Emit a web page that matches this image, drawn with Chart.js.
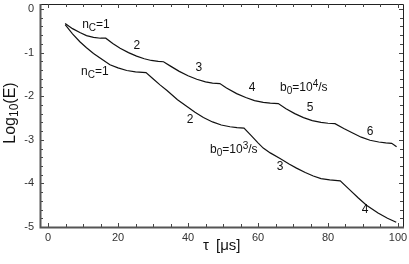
<!DOCTYPE html>
<html><head><meta charset="utf-8">
<script src="https://cdn.jsdelivr.net/npm/chart.js@4/dist/chart.umd.min.js"></script>
<style>html,body{margin:0;padding:0;background:#fff;}canvas{display:block;}</style>
</head><body>
<canvas id="c" width="409" height="264"></canvas>
<script>
// b0 = 10^4 /s
const tauHigh = [4.9,7,9.1,11,13,15,16.5, 18.5,20.6,23,25.3,27.5,29.5,31.5,33, 35,37.5,40,42.5,45,47,49.1, 51,53.9,56.5,59,61.5,63.5,65.8, 68,70.5,73,75.5,78,80,82, 84.5,87.2,89.5,92,94.5,96.5,98.2,99.6];
const logHigh = [-0.33,-0.45,-0.54,-0.61,-0.65,-0.67,-0.67, -0.79,-0.90,-1.00,-1.08,-1.14,-1.18,-1.20,-1.21, -1.31,-1.43,-1.53,-1.61,-1.67,-1.70,-1.71, -1.81,-1.94,-2.03,-2.10,-2.14,-2.16,-2.17, -2.29,-2.40,-2.49,-2.56,-2.60,-2.62,-2.63, -2.74,-2.85,-2.94,-3.01,-3.05,-3.07,-3.08,-3.16];
// b0 = 10^3 /s
const tauLow = [4.9,7,9.1,11,13,15.5,17.7,20,22.5,25,28, 30,32,34,37,39.6,42,44.4,47,49.5,52,54,56, 58,60,61.5,63.5,66.3,69,71,73.5,75.8,78,80.5,83.5, 86,88.6,91,94.3,97,99.5];
const logLow = [-0.36,-0.57,-0.75,-0.89,-1.02,-1.16,-1.28,-1.35,-1.41,-1.44,-1.46, -1.60,-1.74,-1.87,-2.08,-2.23,-2.37,-2.49,-2.59,-2.66,-2.70,-2.72,-2.73, -2.90,-3.07,-3.19,-3.30,-3.43,-3.56,-3.65,-3.75,-3.83,-3.89,-3.92,-3.94, -4.13,-4.33,-4.50,-4.68,-4.80,-4.89];

const xTickValues = [0,20,40,60,80,100];
const yTickValues = [-5,-4,-3,-2,-1,0];

// curve annotations: "_" = subscript next char, "^" = superscript next char
const labelTexts = ["n_C=1","2","3","4","b_0=10^4/s","5","6","n_C=1","2","b_0=10^3/s","3","4"];
const labelTau   = [13.7, 25.4, 43.1, 58.3, 73.1, 74.9, 92.0, 13.4, 40.6, 53.1, 66.3, 90.6];
const labelLog   = [-0.37,-0.83,-1.35,-1.81,-1.81,-2.27,-2.82,-1.44,-2.55,-3.23,-3.62,-4.61];

const yTitle = ["Log","10","(E)"];
const xTitle = ["τ","[μs]"];

const FONT = '"Liberation Sans", Arial, Helvetica, sans-serif';

function toPts(xs, ys){ return xs.map((x,i)=>({x:x,y:ys[i]})); }

function drawRich(ctx, str, cx, cy, size){
  const segs=[]; let i=0;
  while(i<str.length){
    const ch=str[i];
    if((ch==='_'||ch==='^') && i+1<str.length){ segs.push({t:str[i+1],k:ch}); i+=2; }
    else { segs.push({t:ch,k:''}); i++; }
  }
  const small=Math.round(size*0.85);
  let w=0;
  segs.forEach(s=>{ ctx.font=(s.k?small:size)+'px '+FONT; s.w=ctx.measureText(s.t).width; w+=s.w; });
  let x=cx-w/2;
  ctx.textBaseline='middle'; ctx.textAlign='left';
  segs.forEach(s=>{
    ctx.font=(s.k?small:size)+'px '+FONT;
    const dy = s.k==='_'?3:(s.k==='^'?-4:0);
    ctx.fillText(s.t,x,cy+dy); x+=s.w;
  });
}

const framePlugin = {
  id:'frame',
  afterDatasetsDraw(chart){
    const ctx=chart.ctx, a=chart.chartArea, xs=chart.scales.x, ys=chart.scales.y;
    ctx.save();
    ctx.strokeStyle='#222'; ctx.lineWidth=1;
    ctx.beginPath();
    ctx.moveTo(a.left,a.top+0.5); ctx.lineTo(a.right+0.5,a.top+0.5); ctx.lineTo(a.right+0.5,a.bottom);
    ctx.stroke();
    ctx.strokeStyle='#444'; ctx.lineWidth=1;
    ctx.beginPath();
    for(let v=0; v<=100.001; v+=5){
      const px=Math.round(xs.getPixelForValue(v))+0.5;
      const L = (v%20===0)?4:3;
      ctx.moveTo(px,a.bottom); ctx.lineTo(px,a.bottom-L);
      ctx.moveTo(px,a.top); ctx.lineTo(px,a.top+L);
    }
    for(let k=0; k<=25; k++){
      const v=-5+k*0.2;
      const py=Math.round(ys.getPixelForValue(v))+0.5;
      const L = (k%5===0)?4:3;
      ctx.moveTo(a.left,py); ctx.lineTo(a.left+L,py);
      ctx.moveTo(a.right,py); ctx.lineTo(a.right-L,py);
    }
    ctx.stroke();
    ctx.strokeStyle='#555'; ctx.lineWidth=2;
    ctx.beginPath();
    ctx.moveTo(a.left+0.5,a.top); ctx.lineTo(a.left+0.5,a.bottom+0.5); ctx.lineTo(a.right+1,a.bottom+0.5);
    ctx.stroke();
    ctx.fillStyle='#111';
    labelTexts.forEach((t,i)=>{
      drawRich(ctx,t,xs.getPixelForValue(labelTau[i]),ys.getPixelForValue(labelLog[i]),12);
    });
    ctx.save();
    ctx.translate(11,113); ctx.rotate(-Math.PI/2);
    ctx.fillStyle='#111'; ctx.textBaseline='middle'; ctx.textAlign='left';
    ctx.font='16px '+FONT; const w1=ctx.measureText(yTitle[0]).width;
    ctx.font='12px '+FONT; const w2=ctx.measureText(yTitle[1]).width;
    ctx.font='16px '+FONT; const w3=ctx.measureText(yTitle[2]).width;
    let x=-(w1+w2+w3)/2;
    ctx.font='16px '+FONT; ctx.fillText(yTitle[0],x,0); x+=w1;
    ctx.font='12px '+FONT; ctx.fillText(yTitle[1],x,4); x+=w2;
    ctx.font='16px '+FONT; ctx.fillText(yTitle[2],x,0);
    ctx.restore();
    ctx.fillStyle='#111'; ctx.textBaseline='middle'; ctx.textAlign='left';
    ctx.font='15px '+FONT;
    ctx.fillText(xTitle[0],203,246);
    ctx.fillText(xTitle[1],216,246);
    ctx.restore();
  }
};

new Chart(document.getElementById('c'),{
  type:'line',
  data:{datasets:[
    {label:'b0=1e4/s',data:toPts(tauHigh,logHigh),borderColor:'#111',borderWidth:1.2,pointRadius:0,tension:0,fill:false},
    {label:'b0=1e3/s',data:toPts(tauLow,logLow),borderColor:'#111',borderWidth:1.2,pointRadius:0,tension:0,fill:false}
  ]},
  options:{
    responsive:false, animation:false, devicePixelRatio:1,
    layout:{padding:{top:4,right:6,left:0,bottom:0}},
    plugins:{legend:{display:false},tooltip:{enabled:false}},
    scales:{
      x:{type:'linear',min:-2.29,max:101.43,
        grid:{display:false,drawTicks:false},border:{display:false},
        ticks:{font:{family:FONT,size:11},color:'#333',padding:4,autoSkip:false,maxRotation:0},
        afterBuildTicks:s=>{s.ticks=xTickValues.map(v=>({value:v}));},
        afterFit:s=>{s.height=37;s.paddingLeft=0;s.paddingRight=0;s.paddingTop=0;s.paddingBottom=0;}},
      y:{type:'linear',min:-5,max:0.115,
        grid:{display:false,drawTicks:false},border:{display:false},
        ticks:{font:{family:FONT,size:11},color:'#333',padding:6,autoSkip:false},
        afterBuildTicks:s=>{s.ticks=yTickValues.map(v=>({value:v}));},
        afterFit:s=>{s.width=40;s.paddingLeft=0;s.paddingRight=0;s.paddingTop=0;s.paddingBottom=0;}}
    }
  },
  plugins:[framePlugin]
});
</script>
</body></html>
